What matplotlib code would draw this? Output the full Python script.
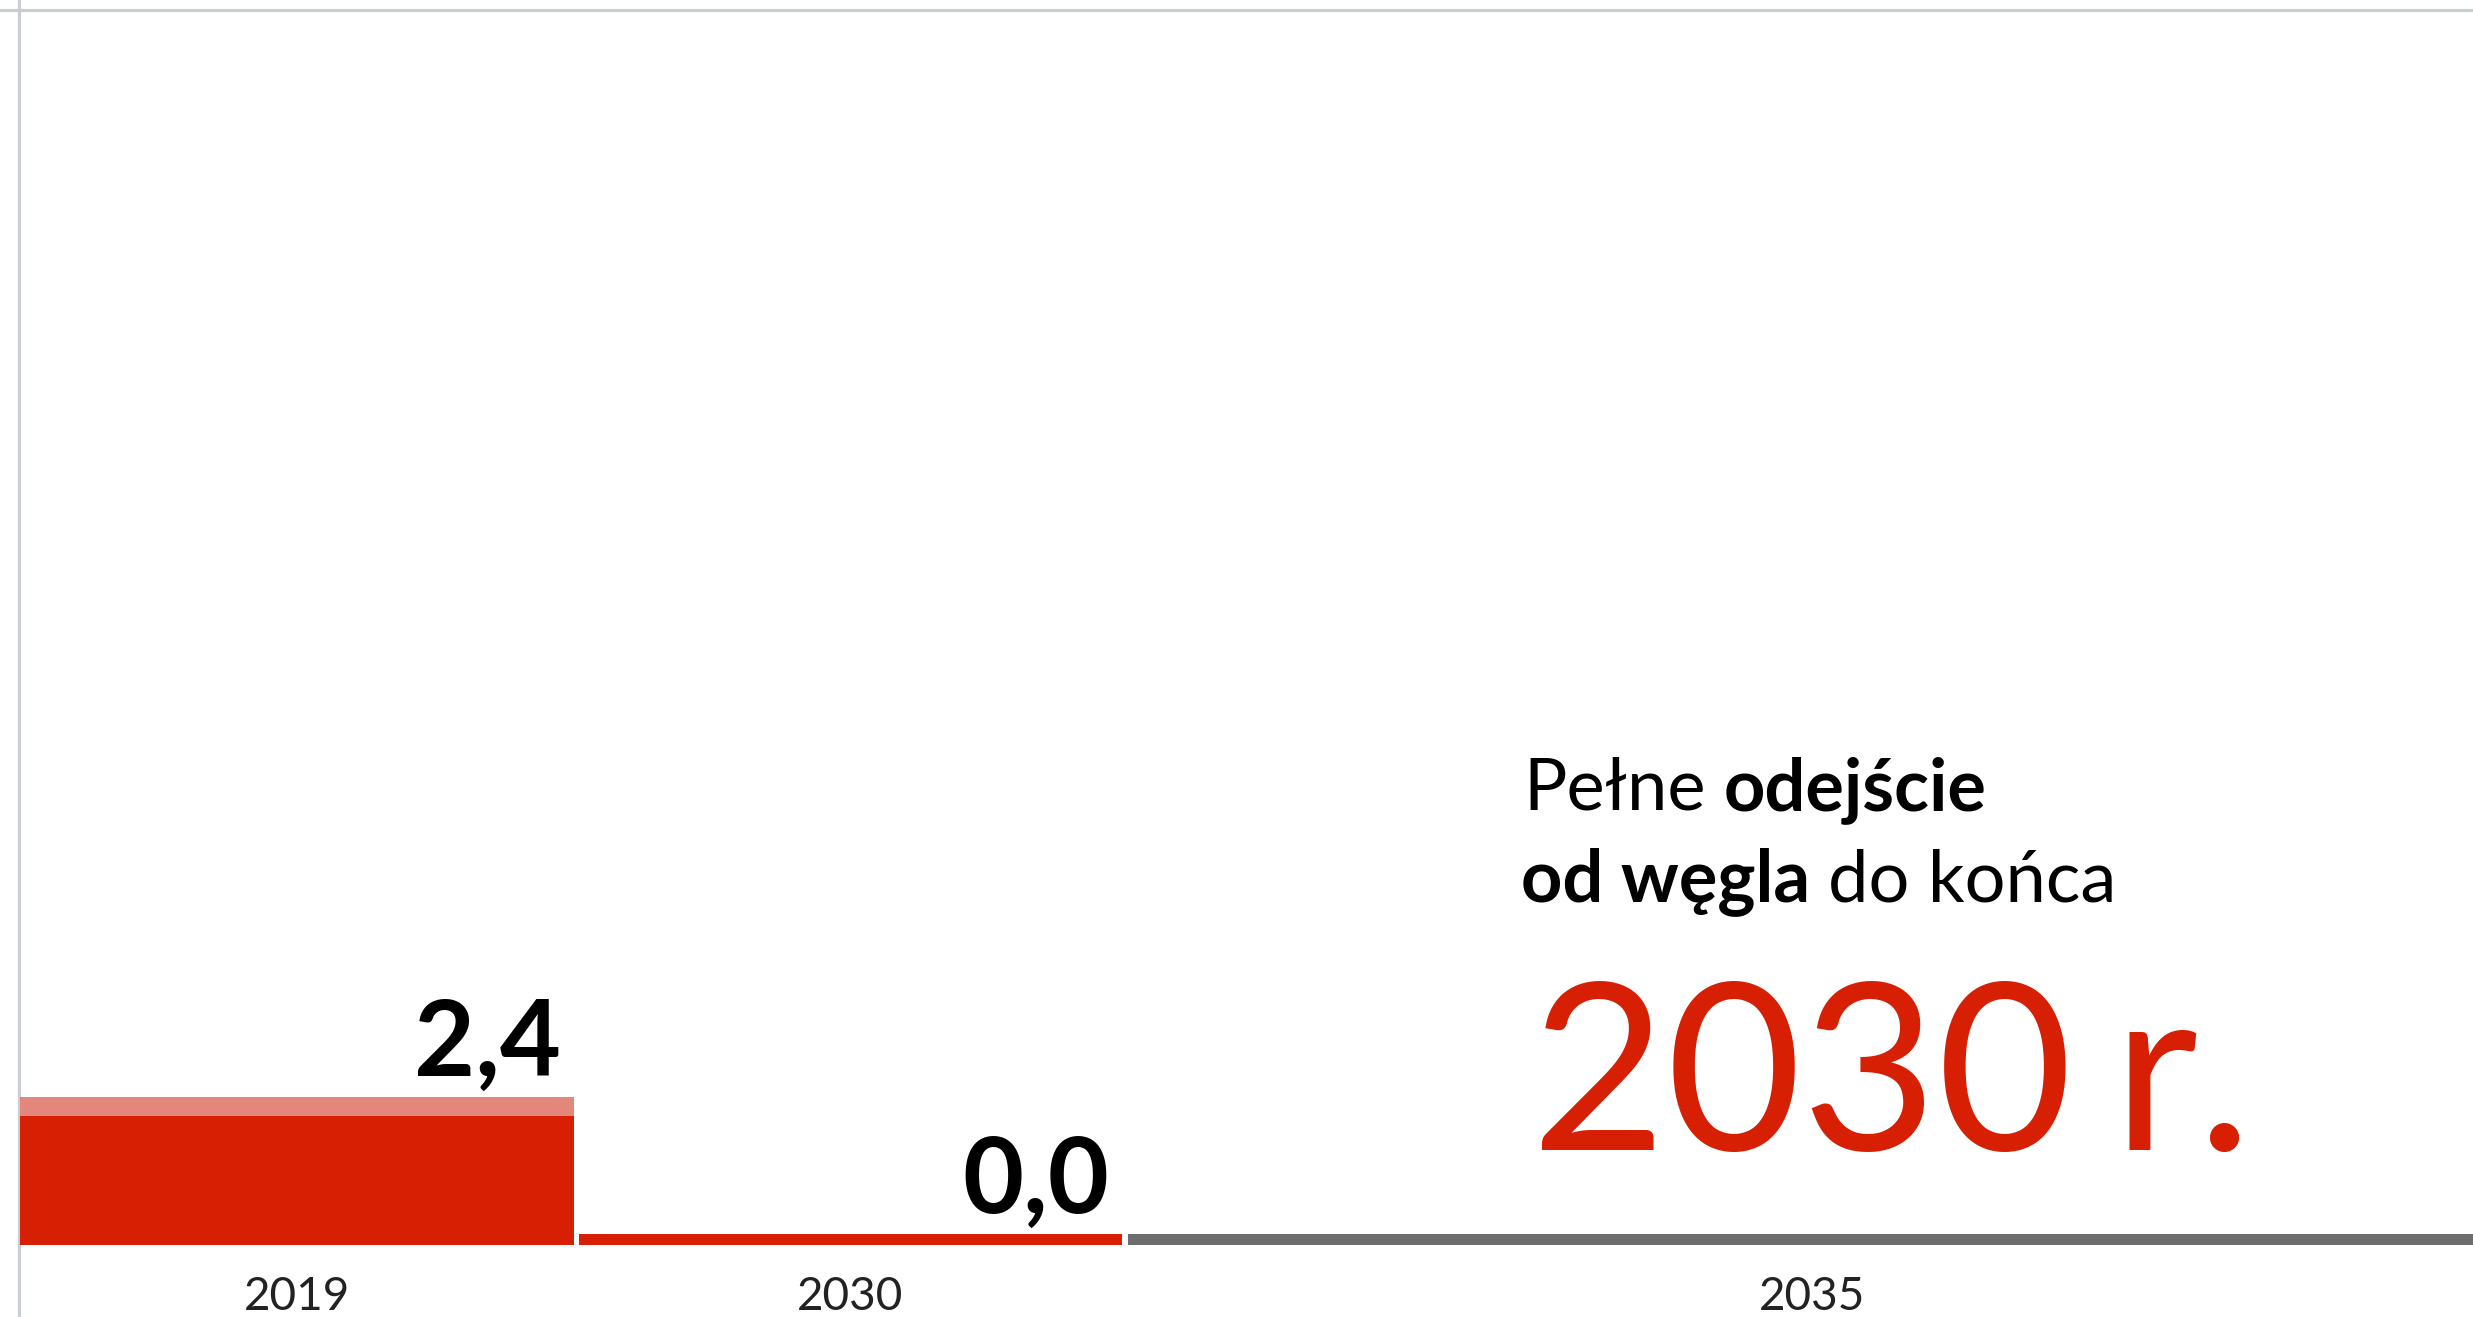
import matplotlib
matplotlib.use("Agg")
import matplotlib.pyplot as plt

plt.rcParams["font.family"] = ["Lato", "DejaVu Sans"]

# Data
years = ["2019", "2030", "2035"]
values = [2.4, 0.0, 0.0]
value_labels = ["2,4", "0,0", None]

# Layout (x in figure pixels) and style
W, H, DPI = 2473, 1317, 100
bar_left = [20.5, 579, 1128]
bar_width = [553.5, 543, 1368]
bar_colors = ["#d71f04", "#d71f04", "#6e6e6e"]
CAP_COLOR = "#e3877c"
GRID = "#c9ccd1"
Y_MAX = 20
MIN_H = 0.18      # smallest visible bar height
CAP = 0.31        # light band on top of non-zero bars

fig = plt.figure(figsize=(W / DPI, H / DPI), dpi=DPI)
ax_bottom = (H - 1245) / H
ax_top = 1 - 9.5 / H
ax = fig.add_axes([0, ax_bottom, 1, ax_top - ax_bottom])
ax.set_xlim(0, W)
ax.set_ylim(0, Y_MAX)
for s in ax.spines.values():
    s.set_visible(False)
ax.set_yticks([])

# grid lines
ax.axhline(Y_MAX, color=GRID, lw=2.3, clip_on=False, zorder=0)
ax.axvline(19.5, ymin=-0.07, ymax=1.02, color=GRID, lw=2.3, clip_on=False, zorder=0)

centers = []
for left, w, v, c, lab in zip(bar_left, bar_width, values, bar_colors, value_labels):
    h = max(v, MIN_H)
    if v > 2 * CAP:
        ax.bar(left, h, width=w, align="edge", color=CAP_COLOR, zorder=2, lw=0)
        ax.bar(left, h - CAP, width=w, align="edge", color=c, zorder=3, lw=0)
    else:
        ax.bar(left, h, width=w, align="edge", color=c, zorder=3, lw=0)
    centers.append(left + w / 2)
    if lab is not None:
        ax.annotate(lab, xy=(left + w, h), xytext=(-9.4, 15.2),
                    textcoords="offset points", ha="right", va="baseline",
                    fontsize=76, fontweight="bold", color="#000000", zorder=5)

ax.set_xticks(centers, labels=years)
ax.tick_params(axis="x", length=0, pad=22, labelsize=33, labelcolor="#222222")

# headline text block
def fx(px):
    return px / W

def fy(px):
    return 1 - px / H

HEAD = 52
t1 = fig.text(fx(1523), fy(810), "Pełne", fontsize=HEAD, va="baseline",
              ha="left", color="#000000")
ax.annotate("odejście", xy=(1, fy(810)), xycoords=(t1, "figure fraction"),
            xytext=(13, 0), textcoords="offset points", va="baseline",
            ha="left", fontsize=HEAD, fontweight="bold", color="#000000",
            annotation_clip=False)
t3 = fig.text(fx(1521), fy(901), "od węgla", fontsize=HEAD, va="baseline",
              ha="left", fontweight="bold", color="#000000")
ax.annotate("do końca", xy=(1, fy(901)), xycoords=(t3, "figure fraction"),
            xytext=(13, 0), textcoords="offset points", va="baseline",
            ha="left", fontsize=HEAD, color="#000000", annotation_clip=False)

t5 = fig.text(fx(1531), fy(1150), "2030", fontsize=168, va="baseline",
              ha="left", color="#d71f04")
ax.annotate("r.", xy=(1, fy(1150)), xycoords=(t5, "figure fraction"),
            xytext=(29, 0), textcoords="offset points", va="baseline",
            ha="left", fontsize=168, color="#d71f04", annotation_clip=False)

fig.savefig("out.png", dpi=DPI, facecolor="white")
